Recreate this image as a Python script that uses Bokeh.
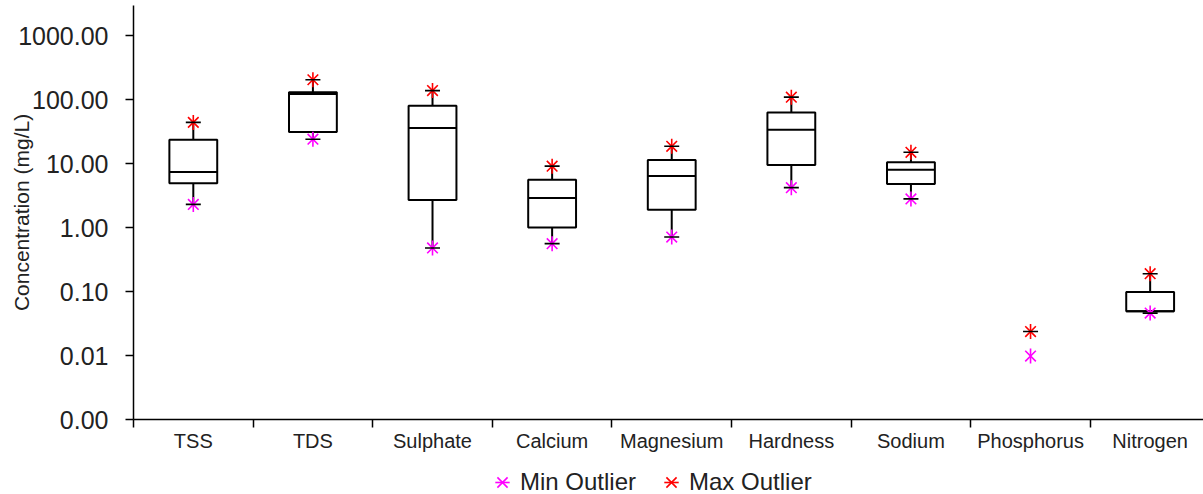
import math
from bokeh.plotting import figure
from bokeh.layouts import column
from bokeh.models import (Range1d, FixedTicker, CustomJSTickFormatter,
                          Legend, LegendItem)
from bokeh.embed import file_html
from bokeh.resources import INLINE

nan = float("nan")

categories = ["TSS", "TDS", "Sulphate", "Calcium", "Magnesium",
              "Hardness", "Sodium", "Phosphorus", "Nitrogen"]
min_outlier = [2.3, 24, 0.48, 0.56, 0.71, 4.2, 2.8, 0.0098, 0.046]
q1 = [4.9, 31, 2.7, 1.0, 1.9, 9.5, 4.8, nan, 0.049]
median = [7.4, 122, 36, 2.9, 6.4, 33.6, 8.0, nan, 0.049]
q3 = [23.5, 130, 80, 5.6, 11.4, 63, 10.5, nan, 0.098]
max_outlier = [44, 204, 138, 9.1, 18.6, 109, 15, 0.0237, 0.19]
y_ticks = [0.001, 0.01, 0.1, 1, 10, 100, 1000]

FONT = "Liberation Sans"
TXT = "#222222"
MIN_C = "#ff00ff"
MAX_C = "#ff0000"
n = len(categories)
xs = [i + 0.5 for i in range(n)]
bounds = list(range(n + 1))
label_map = {x: c for x, c in zip(xs, categories)}

p = figure(width=1203, height=454,
           x_range=Range1d(0, 8.946), y_range=Range1d(0.001, 10 ** 3.47),
           y_axis_type="log", output_backend="svg", toolbar_location=None,
           min_border_left=133, min_border_right=0, min_border_top=5,
           min_border_bottom=35)
p.outline_line_color = None
p.xgrid.visible = False
p.ygrid.visible = False

# y axis
ya = p.yaxis[0]
ya.ticker = FixedTicker(ticks=y_ticks, minor_ticks=[])
ya.formatter = CustomJSTickFormatter(code="return tick.toFixed(2);")
ya.axis_line_width = 1.5
ya.axis_line_color = "black"
ya.major_tick_in = 0
ya.major_tick_out = 8
ya.major_tick_line_width = 1.5
ya.major_label_standoff = 17
ya.major_label_text_font = FONT
ya.major_label_text_font_size = "25px"
ya.major_label_text_color = TXT
ya.axis_label = "Concentration (mg/L)"
ya.axis_label_text_font = FONT
ya.axis_label_text_font_size = "21px"
ya.axis_label_text_font_style = "normal"
ya.axis_label_text_color = TXT
ya.axis_label_standoff = -18

# x axis
xa = p.xaxis[0]
xa.ticker = FixedTicker(ticks=xs, minor_ticks=bounds)
xa.major_label_overrides = label_map
xa.major_tick_line_color = None
xa.major_tick_in = 0
xa.major_tick_out = 0
xa.minor_tick_in = 0
xa.minor_tick_out = 8
xa.minor_tick_line_color = "black"
xa.minor_tick_line_width = 1.5
xa.axis_line_width = 1.5
xa.axis_line_color = "black"
xa.major_label_standoff = 2
xa.major_label_text_font = FONT
xa.major_label_text_font_size = "20px"
xa.major_label_text_color = TXT

# boxes
bw = 0.2
p.quad(left=[x - bw for x in xs], right=[x + bw for x in xs], bottom=q1, top=q3,
       fill_color=None, line_color="black", line_width=2)
p.segment(x0=[x - bw for x in xs], x1=[x + bw for x in xs], y0=median, y1=median,
          line_color="black", line_width=2)
p.segment(x0=xs, x1=xs, y0=q3, y1=max_outlier, line_color="black", line_width=2)
p.segment(x0=xs, x1=xs, y0=q1, y1=min_outlier, line_color="black", line_width=2)

# outliers
MS = 15
p.scatter(xs, min_outlier, marker="x", size=MS, line_color=MIN_C, line_width=1.6)
p.scatter(xs, min_outlier, marker="dash", angle=math.pi / 2, size=MS,
          line_color=MIN_C, line_width=1.6)
p.scatter(xs, max_outlier, marker="x", size=MS, line_color=MAX_C, line_width=1.6)
p.scatter(xs, max_outlier, marker="dash", angle=math.pi / 2, size=MS,
          line_color=MAX_C, line_width=1.6)

# whisker caps
cap_min = [m if not math.isnan(q) else nan for m, q in zip(min_outlier, q1)]
p.scatter(xs, max_outlier, marker="dash", size=MS, line_color="black", line_width=1.6)
p.scatter(xs, cap_min, marker="dash", size=MS, line_color="black", line_width=1.6)

# legend strip (glyphs carry no visible data; they only feed the legend)
lf = figure(width=1203, height=40, x_range=Range1d(0, 1), y_range=Range1d(0, 1),
            output_backend="svg", toolbar_location=None,
            min_border_left=0, min_border_right=0, min_border_top=0,
            min_border_bottom=0)
lf.axis.visible = False
lf.grid.visible = False
lf.outline_line_color = None
a1 = lf.scatter([nan], [nan], marker="x", line_color=MIN_C, line_width=1.6)
a2 = lf.scatter([nan], [nan], marker="dash", angle=math.pi / 2, line_color=MIN_C, line_width=1.6)
b1 = lf.scatter([nan], [nan], marker="x", line_color=MAX_C, line_width=1.6)
b2 = lf.scatter([nan], [nan], marker="dash", angle=math.pi / 2, line_color=MAX_C, line_width=1.6)
legend = Legend(items=[LegendItem(label="Min Outlier", renderers=[a1, a2]),
                       LegendItem(label="Max Outlier", renderers=[b1, b2])],
                orientation="horizontal", location=(351, -6),
                label_text_font=FONT, label_text_font_size="24px",
                label_text_color=TXT,
                glyph_width=36, glyph_height=36, label_standoff=0, spacing=17,
                padding=0, margin=0, border_line_color=None,
                background_fill_alpha=0)
lf.add_layout(legend, "center")

open("out.html", "w").write(file_html(column(p, lf, spacing=0), INLINE))
